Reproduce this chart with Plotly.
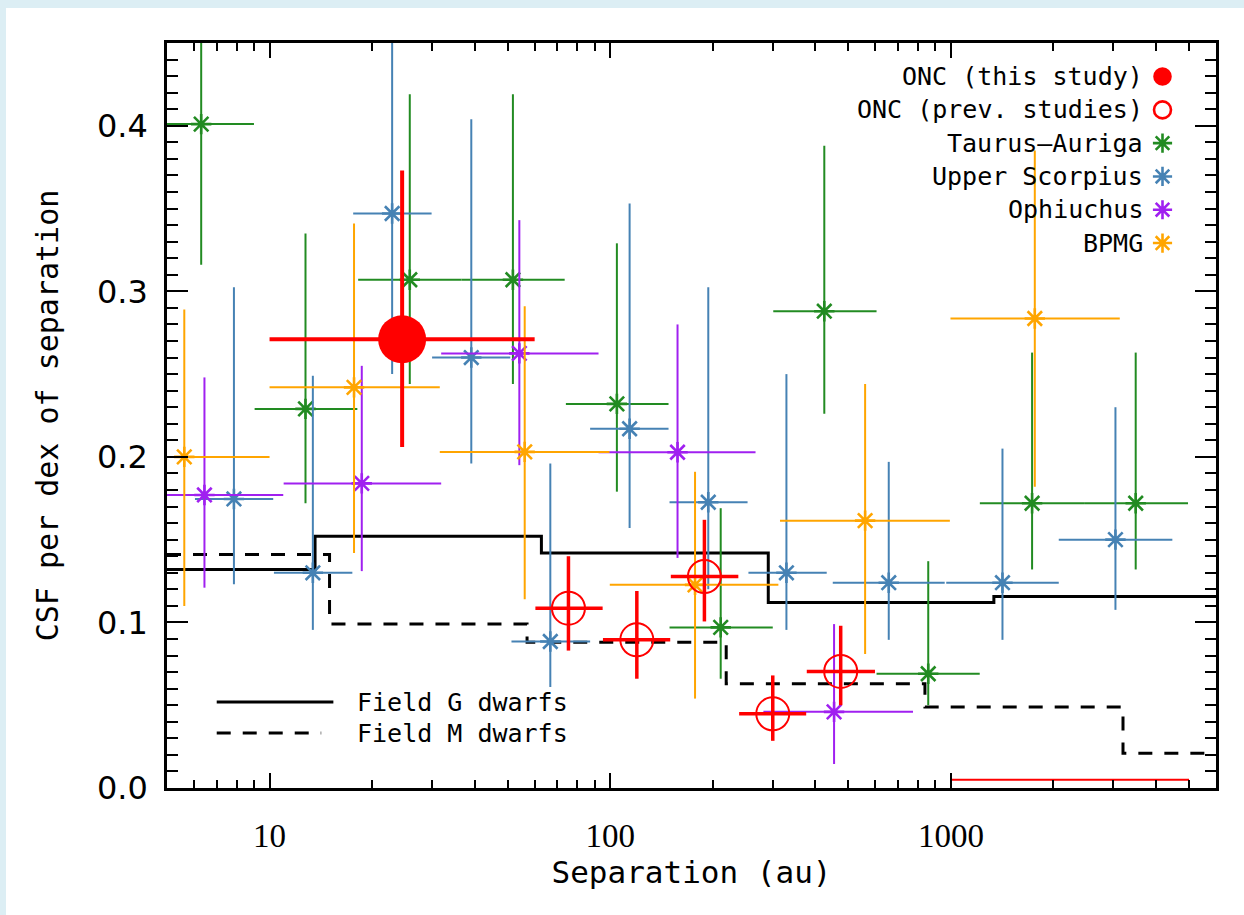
import numpy as np
import plotly.graph_objects as go

# ---------------- data ----------------
# Taurus-Auriga
tau_x   = [6.3, 12.75, 25.8, 51.8, 104.6, 211, 425, 858, 1731, 3487]
tau_y   = [0.401, 0.229, 0.307, 0.307, 0.232, 0.097, 0.288, 0.069, 0.172, 0.172]
tau_xlo = [4.4, 9.04, 18.2, 36.6, 74.1, 149.3, 301, 605, 1216, 2460]
tau_xhi = [9.0, 18.1, 36.6, 73.5, 148.3, 300, 605, 1215, 2460, 4966]
tau_ylo = [0.316, 0.172, 0.244, 0.244, 0.179, 0.066, 0.226, 0.050, 0.132, 0.132]
tau_yhi = [0.49, 0.335, 0.419, 0.419, 0.329, 0.169, 0.388, 0.137, 0.263, 0.263]

# Upper Scorpius
usc_x   = [7.86, 13.4, 22.9, 39.1, 66.7, 114, 194, 329, 657, 1417, 3041]
usc_y   = [0.1746, 0.130, 0.347, 0.260, 0.0885, 0.217, 0.1726, 0.130, 0.124, 0.124, 0.150]
usc_xlo = [6.04, 10.3, 17.6, 30.0, 51.3, 87.3, 149.3, 254.5, 450, 969, 2073]
usc_xhi = [10.25, 17.5, 29.9, 50.9, 87.3, 148.3, 253, 432, 959, 2073, 4467]
usc_ylo = [0.123, 0.0955, 0.25, 0.196, 0.061, 0.157, 0.12, 0.0955, 0.0895, 0.0895, 0.1076]
usc_yhi = [0.3025, 0.249, 0.47, 0.404, 0.196, 0.353, 0.3025, 0.250, 0.197, 0.205, 0.230]

# Ophiuchus
oph_x   = [6.44, 18.65, 54.1, 157.6, 454]
oph_y   = [0.177, 0.184, 0.2625, 0.2028, 0.046]
oph_xlo = [3.8, 11.0, 31.9, 92.4, 281.6]
oph_xhi = [10.97, 31.9, 92.4, 267, 774]
oph_ylo = [0.121, 0.131, 0.195, 0.139, 0.0145]
oph_yhi = [0.248, 0.255, 0.343, 0.280, 0.099]

# BPMG
bp_x   = [5.62, 17.7, 56.1, 177.4, 560, 1763]
bp_y   = [0.200, 0.242, 0.203, 0.1227, 0.1615, 0.2836]
bp_xlo = [3.2, 10.0, 31.6, 99.7, 315, 997]
bp_xhi = [10.0, 31.6, 99.5, 311.6, 993, 3131]
bp_ylo = [0.110, 0.142, 0.114, 0.054, 0.081, 0.182]
bp_yhi = [0.289, 0.341, 0.291, 0.191, 0.244, 0.385]

# ONC (previous studies)
onp_x   = [75.4, 119.7, 189, 300, 474.8]
onp_y   = [0.1086, 0.0895, 0.1277, 0.0448, 0.0704]
onp_xlo = [60.3, 95.2, 150.6, 239, 377.5]
onp_xhi = [95, 150, 237.7, 376, 598.6]
onp_ylo = [0.083, 0.066, 0.1006, 0.0285, 0.050]
onp_yhi = [0.140, 0.119, 0.162, 0.068, 0.098]
onp_lim_x = [1000, 5000]
onp_lim_y = [0.005, 0.005]

# ONC (this study)
onc_x, onc_y = [24.5], [0.271]
onc_xlo, onc_xhi = [10.0], [60.0]
onc_ylo, onc_yhi = [0.206], [0.373]

# Field G / M dwarfs (step histograms)
g_edges = [5, 13.6, 62.8, 291, 1337, 6000]
g_vals  = [0.132, 0.152, 0.142, 0.112, 0.1157]
m_edges = [5, 15, 57, 219, 839, 3200, 6000]
m_vals  = [0.141, 0.099, 0.088, 0.063, 0.049, 0.021]

legend_labels = ["ONC (this study)", "ONC (prev. studies)", "Taurus\u2013Auriga",
                 "Upper Scorpius", "Ophiuchus", "BPMG"]

# ---------------- style ----------------
GREEN, BLUE, PURPLE, ORANGE, RED = "#228B22", "#4682B4", "#A020F0", "#FFA500", "#FF0000"
MONO = "DejaVu Sans Mono"

fig = go.Figure()

def step_xy(edges, vals):
    return list(edges), list(vals) + [vals[-1]]

gx, gy = step_xy(g_edges, g_vals)
mx, my = step_xy(m_edges, m_vals)
fig.add_trace(go.Scatter(x=gx, y=gy, mode="lines", line=dict(color="black", width=3, shape="hv"),
                         showlegend=False, hoverinfo="skip"))
fig.add_trace(go.Scatter(x=mx, y=my, mode="lines",
                         line=dict(color="black", width=3, shape="hv", dash="14px,12px"),
                         showlegend=False, hoverinfo="skip"))

def err_trace(x, y, xlo, xhi, ylo, yhi, color, symbol, size, lw, ew):
    xp = [h - v for h, v in zip(xhi, x)]
    xm = [v - l for v, l in zip(x, xlo)]
    yp = [h - v for h, v in zip(yhi, y)]
    ym = [v - l for v, l in zip(y, ylo)]
    return go.Scatter(
        x=x, y=y, mode="markers",
        marker=dict(symbol=symbol, size=size, color=color,
                    line=dict(color=color, width=lw)),
        error_x=dict(type="data", symmetric=False, array=xp, arrayminus=xm,
                     color=color, thickness=ew, width=0),
        error_y=dict(type="data", symmetric=False, array=yp, arrayminus=ym,
                     color=color, thickness=ew, width=0),
        showlegend=False, cliponaxis=True)

fig.add_trace(err_trace(tau_x, tau_y, tau_xlo, tau_xhi, tau_ylo, tau_yhi, GREEN, "asterisk-open", 17, 2.6, 2))
fig.add_trace(err_trace(usc_x, usc_y, usc_xlo, usc_xhi, usc_ylo, usc_yhi, BLUE, "asterisk-open", 17, 2.6, 2))
fig.add_trace(err_trace(oph_x, oph_y, oph_xlo, oph_xhi, oph_ylo, oph_yhi, PURPLE, "asterisk-open", 17, 2.6, 2))
fig.add_trace(err_trace(bp_x, bp_y, bp_xlo, bp_xhi, bp_ylo, bp_yhi, ORANGE, "asterisk-open", 17, 2.6, 2))
fig.add_trace(err_trace(onp_x, onp_y, onp_xlo, onp_xhi, onp_ylo, onp_yhi, RED, "circle-open", 33, 2, 3.5))
fig.add_trace(go.Scatter(x=onp_lim_x, y=onp_lim_y, mode="lines", line=dict(color=RED, width=2),
                         showlegend=False, hoverinfo="skip"))
fig.add_trace(err_trace(onc_x, onc_y, onc_xlo, onc_xhi, onc_ylo, onc_yhi, RED, "circle", 48, 0, 4))

# legend markers on an overlay axis (0..1 in plot area)
leg_sym = ["circle", "circle-open", "asterisk-open", "asterisk-open", "asterisk-open", "asterisk-open"]
leg_col = [RED, RED, GREEN, BLUE, PURPLE, ORANGE]
leg_size = [16, 17, 16, 16, 16, 16]
leg_y0, leg_dy = 0.955, 0.0447
leg_ys = [leg_y0 - i * leg_dy for i in range(len(legend_labels))]
for s, c, sz, yy in zip(leg_sym, leg_col, leg_size, leg_ys):
    fig.add_trace(go.Scatter(x=[0.949], y=[yy], mode="markers", xaxis="x2", yaxis="y2",
                             marker=dict(symbol=s, size=sz, color=c, line=dict(color=c, width=2.6)),
                             showlegend=False, hoverinfo="skip"))
for lab, yy in zip(legend_labels, leg_ys):
    fig.add_annotation(x=0.932, y=yy, xref="paper", yref="paper", text=lab, showarrow=False,
                       xanchor="right", yanchor="middle", font=dict(family=MONO, size=25, color="black"))

# field legend (bottom-left)
fig.add_shape(type="line", xref="paper", yref="paper", x0=0.0474, x1=0.1586, y0=0.1154, y1=0.1154,
              line=dict(color="black", width=3))
fig.add_shape(type="line", xref="paper", yref="paper", x0=0.0474, x1=0.147, y0=0.0738, y1=0.0738,
              line=dict(color="black", width=3, dash="14px,12px"))
fig.add_annotation(x=0.1792, y=0.1154, xref="paper", yref="paper", text="Field G dwarfs", showarrow=False,
                   xanchor="left", yanchor="middle", font=dict(family=MONO, size=25, color="black"))
fig.add_annotation(x=0.1792, y=0.0738, xref="paper", yref="paper", text="Field M dwarfs", showarrow=False,
                   xanchor="left", yanchor="middle", font=dict(family=MONO, size=25, color="black"))

# light-blue frame strips (left and top)
W, H = 1244, 915
ML, MR, MT, MB = 167, 28, 43, 127
pw, ph = W - ML - MR, H - MT - MB
def px2x(p): return (p - ML) / pw
def py2y(p): return (H - MB - p) / ph
FRAME = "#DCEEF4"
fig.add_shape(type="rect", xref="paper", yref="paper", x0=px2x(0), x1=px2x(6), y0=py2y(H), y1=py2y(0),
              fillcolor=FRAME, line=dict(width=0), layer="below")
fig.add_shape(type="rect", xref="paper", yref="paper", x0=px2x(0), x1=px2x(W), y0=py2y(8), y1=py2y(0),
              fillcolor=FRAME, line=dict(width=0), layer="below")

minor_x = [m * 10 ** d for d in range(0, 4) for m in range(2, 10) if 5 <= m * 10 ** d <= 6000]

fig.update_layout(
    width=W, height=H, margin=dict(l=ML, r=MR, t=MT, b=MB, autoexpand=False),
    paper_bgcolor="white", plot_bgcolor="white", showlegend=False,
    xaxis=dict(type="log", range=[np.log10(5), np.log10(6000)], showgrid=False, zeroline=False,
               showline=True, linecolor="black", linewidth=2.5, mirror="ticks",
               ticks="inside", ticklen=15, tickwidth=2, tickcolor="black",
               tickmode="array", tickvals=[10, 100, 1000], ticktext=["10", "100", "1000"],
               tickfont=dict(family="Liberation Serif", size=33, color="black"),
               ticklabelstandoff=17,
               minor=dict(ticks="inside", ticklen=8, tickwidth=1.5, tickcolor="black",
                          tickmode="array", tickvals=minor_x, showgrid=False),
               title=dict(text="Separation (au)", font=dict(family=MONO, size=31, color="black"),
                          standoff=6)),
    yaxis=dict(range=[0, 0.45], showgrid=False, zeroline=False,
               showline=True, linecolor="black", linewidth=2.5, mirror="ticks",
               ticks="inside", ticklen=21, tickwidth=2, tickcolor="black",
               tick0=0, dtick=0.1, tickformat=".1f",
               tickfont=dict(family="DejaVu Sans", size=32, color="black"),
               ticklabelstandoff=10,
               minor=dict(ticks="inside", ticklen=11, tickwidth=1.5, tickcolor="black", dtick=0.01,
                          showgrid=False),
               title=dict(text="CSF per dex of separation", font=dict(family=MONO, size=30, color="black"),
                          standoff=30)),
    xaxis2=dict(overlaying="x", range=[0, 1], visible=False),
    yaxis2=dict(overlaying="y", range=[0, 1], visible=False),
)

fig.write_html("out.html")
